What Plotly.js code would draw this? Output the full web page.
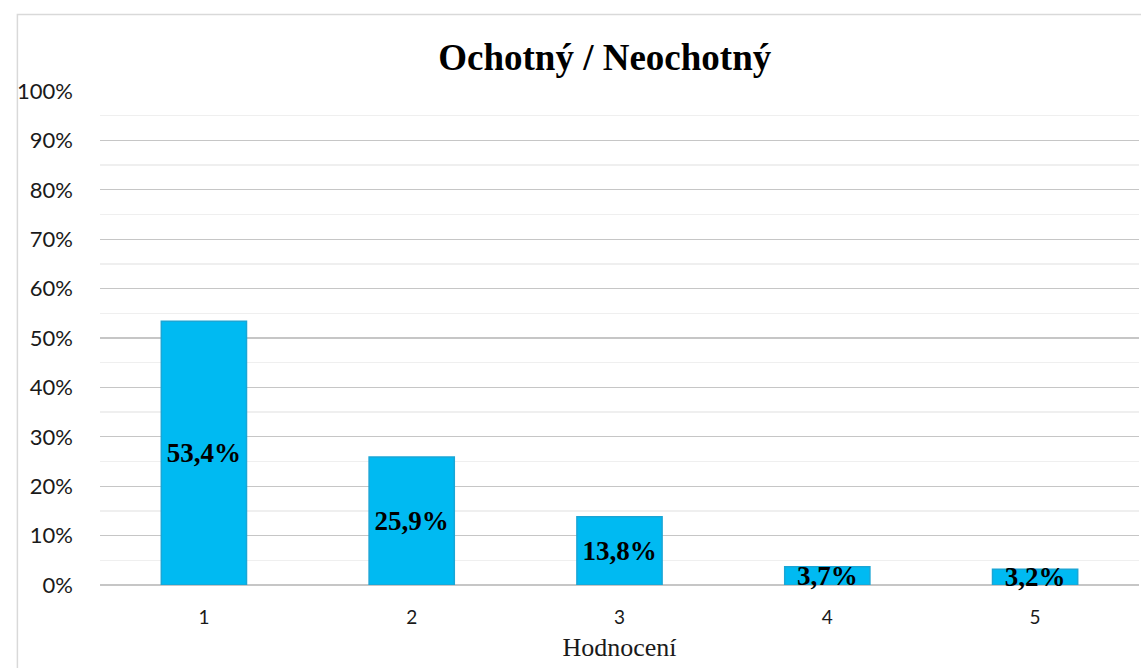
<!DOCTYPE html>
<html>
<head>
<meta charset="utf-8">
<script src="https://cdn.plot.ly/plotly-3.0.1.min.js"></script>
<style>html,body{margin:0;padding:0;background:#fff;}#chart{width:1141px;height:668px;}</style>
</head>
<body>
<div id="chart"></div>
<script>
const categories = ['1', '2', '3', '4', '5'];
const values = [0.534, 0.259, 0.138, 0.037, 0.032];
const labels = ['53,4%', '25,9%', '13,8%', '3,7%', '3,2%'];
const yTickVals = [0, 0.1, 0.2, 0.3, 0.4, 0.5, 0.6, 0.7, 0.8, 0.9, 1.0];
const yTickText = ['0%', '10%', '20%', '30%', '40%', '50%', '60%', '70%', '80%', '90%', '100%'];

const trace = {
  type: 'bar',
  x: categories,
  y: values,
  text: labels,
  textposition: 'inside',
  insidetextanchor: 'middle',
  constraintext: 'none',
  textangle: 0,
  cliponaxis: false,
  textfont: {family: '"Liberation Serif", "Times New Roman", serif', size: 27, color: '#000000', weight: 'bold'},
  marker: {color: '#00BAF2', line: {color: '#1AA6D6', width: 1.5}},
  width: 0.41,
  hoverinfo: 'none'
};

const layout = {
  width: 1141,
  height: 668,
  margin: {l: 100, r: 2, t: 91, b: 83},
  paper_bgcolor: '#ffffff',
  plot_bgcolor: '#ffffff',
  showlegend: false,
  title: {
    text: '<b>Ochotný / Neochotný</b>',
    font: {family: '"Liberation Serif", "Times New Roman", serif', size: 37, color: '#000000'},
    x: 0.53, xanchor: 'center', y: 0.915, yanchor: 'middle'
  },
  xaxis: {
    type: 'category',
    tickfont: {family: 'Lato, "Open Sans", sans-serif', size: 19, color: '#1a1a1a'},
    showline: false,
    ticks: '',
    ticklabelstandoff: 19,
    title: {text: 'Hodnocení', font: {family: '"Liberation Serif", "Times New Roman", serif', size: 26, color: '#1a1a1a'}, standoff: 10}
  },
  yaxis: {
    range: [0, 1.0],
    tickvals: yTickVals,
    ticktext: yTickText,
    tickfont: {family: 'Lato, "Open Sans", sans-serif', size: 22, color: '#1a1a1a'},
    showgrid: true,
    gridcolor: '#c6c6c6',
    gridwidth: 1.3,
    zeroline: true,
    zerolinecolor: '#c6c6c6',
    zerolinewidth: 1.3,
    ticks: '',
    ticklabelstandoff: 26,
    minor: {dtick: 0.05, tick0: 0, showgrid: true, gridcolor: '#efefef', gridwidth: 1.3, ticks: ''}
  },
  shapes: [{
    type: 'rect', xref: 'paper', yref: 'paper',
    x0: -0.0795, x1: 1.01, y0: -0.2, y1: 1.155,
    line: {color: '#d9d9d9', width: 1.5}, fillcolor: 'rgba(0,0,0,0)', layer: 'below'
  }]
};

Plotly.newPlot('chart', [trace], layout, {displayModeBar: false, staticPlot: true});
</script>
</body>
</html>
